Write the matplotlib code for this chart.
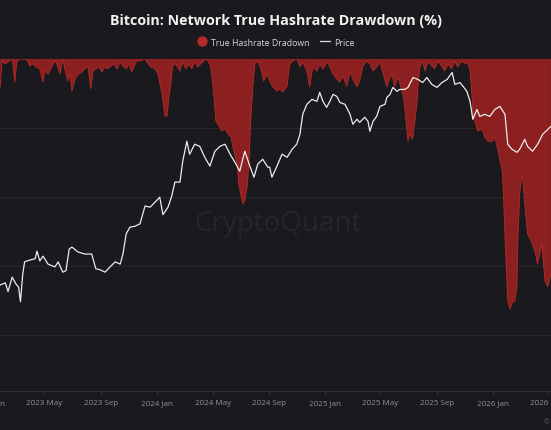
import numpy as np
import pandas as pd
import matplotlib
matplotlib.use("Agg")
import matplotlib.pyplot as plt
import matplotlib.dates as mdates
from matplotlib.lines import Line2D

plt.rcParams['font.family'] = ['Open Sans', 'DejaVu Sans']

# price (USD thousands, log axis)
price_dates = [
    '2023-01-25', '2023-02-05', '2023-02-11', '2023-02-20', '2023-02-28', '2023-03-06',
    '2023-03-10', '2023-03-15', '2023-03-19', '2023-03-30', '2023-04-11', '2023-04-15',
    '2023-04-21', '2023-04-28', '2023-05-09', '2023-05-24', '2023-05-31', '2023-06-10',
    '2023-06-17', '2023-06-24', '2023-06-30', '2023-07-13', '2023-07-28', '2023-08-12',
    '2023-08-21', '2023-08-30', '2023-09-10', '2023-09-21', '2023-10-02', '2023-10-13',
    '2023-10-19', '2023-10-26', '2023-11-03', '2023-11-14', '2023-11-25', '2023-12-06',
    '2023-12-17', '2023-12-28', '2024-01-07', '2024-01-14', '2024-01-25', '2024-02-02',
    '2024-02-09', '2024-02-20', '2024-02-26', '2024-03-06', '2024-03-12', '2024-03-23',
    '2024-04-03', '2024-04-14', '2024-04-25', '2024-05-06', '2024-05-17', '2024-05-28',
    '2024-06-08', '2024-06-21', '2024-06-29', '2024-07-10', '2024-07-21', '2024-07-30',
    '2024-08-07', '2024-08-18', '2024-08-29', '2024-09-02', '2024-09-07', '2024-09-18',
    '2024-09-29', '2024-10-10', '2024-10-21', '2024-10-31', '2024-11-07', '2024-11-13',
    '2024-11-22', '2024-12-03', '2024-12-14', '2024-12-20', '2024-12-27', '2025-01-04',
    '2025-01-11', '2025-01-18', '2025-01-26', '2025-02-02', '2025-02-13', '2025-02-24',
    '2025-03-02', '2025-03-11', '2025-03-17', '2025-03-28', '2025-04-04', '2025-04-08',
    '2025-04-15', '2025-04-23', '2025-04-30', '2025-05-11', '2025-05-15', '2025-05-22',
    '2025-05-28', '2025-06-06', '2025-06-12', '2025-06-23', '2025-06-30', '2025-07-11',
    '2025-07-22', '2025-08-01', '2025-08-10', '2025-08-21', '2025-09-01', '2025-09-12',
    '2025-09-23', '2025-10-04', '2025-10-10', '2025-10-21', '2025-10-28', '2025-11-05',
    '2025-11-12', '2025-11-18', '2025-11-27', '2025-12-03', '2025-12-14', '2025-12-25',
    '2026-01-05', '2026-01-16', '2026-01-27', '2026-02-02', '2026-02-11', '2026-02-22',
    '2026-02-28', '2026-03-11', '2026-03-17', '2026-03-28', '2026-04-08', '2026-04-19',
    '2026-05-07',
]
price_k = [
    23.1, 23.5, 21.9, 24.6, 23.3, 22.7,
    20.2, 25.2, 27.8, 28.2, 28.5, 30.3,
    28.0, 29.1, 27.3, 26.7, 27.8, 25.6,
    25.9, 30.8, 31.3, 30.1, 29.6, 29.6,
    26.3, 26.1, 25.6, 26.7, 27.8, 27.3,
    29.6, 34.8, 36.7, 37.0, 37.7, 43.5,
    43.1, 44.9, 46.7, 40.6, 43.1, 47.1,
    52.7, 52.7, 62.3, 73.1, 65.9, 71.4,
    70.2, 64.3, 59.9, 67.5, 70.2, 71.4,
    65.9, 60.8, 57.5, 67.5, 59.9, 54.8,
    60.8, 63.3, 59.4, 59.4, 54.8, 59.9,
    65.9, 64.3, 68.6, 71.4, 77.3, 90.7,
    98.3, 102.3, 100.7, 108.2, 100.7, 95.9,
    100.7, 106.5, 104.8, 99.8, 98.3, 90.7,
    83.8, 87.2, 85.1, 88.6, 85.8, 79.2,
    85.8, 89.3, 96.7, 98.3, 103.9, 106.5,
    112.6, 109.1, 110.8, 110.8, 112.6, 121.9,
    120.0, 117.1, 121.9, 115.3, 112.6, 117.1,
    120.0, 126.9, 115.3, 117.1, 113.5, 109.1,
    100.7, 87.2, 94.4, 89.3, 90.7, 89.3,
    94.4, 96.7, 90.7, 71.4, 68.6, 66.9,
    68.6, 74.3, 70.2, 67.5, 71.4, 77.3,
    82.4,
]

# true hashrate drawdown (%)
dd_dates = [
    '2023-01-25', '2023-01-29', '2023-02-05', '2023-02-11', '2023-02-20', '2023-02-26',
    '2023-03-02', '2023-03-08', '2023-03-19', '2023-03-26', '2023-03-30', '2023-04-06',
    '2023-04-13', '2023-04-21', '2023-04-28', '2023-05-02', '2023-05-09', '2023-05-13',
    '2023-05-20', '2023-05-26', '2023-06-04', '2023-06-10', '2023-06-17', '2023-06-21',
    '2023-06-26', '2023-06-30', '2023-07-04', '2023-07-09', '2023-07-15', '2023-07-22',
    '2023-07-28', '2023-08-04', '2023-08-10', '2023-08-15', '2023-08-21', '2023-08-28',
    '2023-09-03', '2023-09-10', '2023-09-16', '2023-09-23', '2023-09-29', '2023-10-06',
    '2023-10-13', '2023-10-19', '2023-10-26', '2023-11-01', '2023-11-07', '2023-11-12',
    '2023-11-18', '2023-11-25', '2023-12-06', '2023-12-13', '2023-12-19', '2023-12-28',
    '2024-01-03', '2024-01-12', '2024-01-18', '2024-01-23', '2024-01-27', '2024-01-31',
    '2024-02-04', '2024-02-11', '2024-02-20', '2024-02-26', '2024-03-04', '2024-03-10',
    '2024-03-17', '2024-03-23', '2024-03-30', '2024-04-05', '2024-04-12', '2024-04-18',
    '2024-04-25', '2024-04-29', '2024-05-04', '2024-05-08', '2024-05-15', '2024-05-21',
    '2024-05-28', '2024-06-03', '2024-06-10', '2024-06-16', '2024-06-23', '2024-06-27',
    '2024-07-01', '2024-07-06', '2024-07-10', '2024-07-15', '2024-07-19', '2024-07-23',
    '2024-07-28', '2024-08-01', '2024-08-07', '2024-08-14', '2024-08-20', '2024-08-27',
    '2024-09-02', '2024-09-09', '2024-09-18', '2024-09-24', '2024-10-01', '2024-10-10',
    '2024-10-16', '2024-10-23', '2024-10-31', '2024-11-07', '2024-11-13', '2024-11-22',
    '2024-11-28', '2024-12-05', '2024-12-14', '2024-12-20', '2024-12-27', '2025-01-05',
    '2025-01-11', '2025-01-18', '2025-01-26', '2025-02-02', '2025-02-08', '2025-02-17',
    '2025-02-24', '2025-03-02', '2025-03-11', '2025-03-17', '2025-03-24', '2025-04-02',
    '2025-04-08', '2025-04-15', '2025-04-23', '2025-04-30', '2025-05-06', '2025-05-15',
    '2025-05-19', '2025-05-26', '2025-06-01', '2025-06-08', '2025-06-17', '2025-06-21',
    '2025-06-28', '2025-06-30', '2025-07-04', '2025-07-09', '2025-07-11', '2025-07-15',
    '2025-07-20', '2025-07-22', '2025-07-26', '2025-08-01', '2025-08-06', '2025-08-12',
    '2025-08-21', '2025-08-27', '2025-09-03', '2025-09-12', '2025-09-18', '2025-09-25',
    '2025-10-03', '2025-10-10', '2025-10-16', '2025-10-25', '2025-11-01', '2025-11-07',
    '2025-11-12', '2025-11-16', '2025-11-18', '2025-11-22', '2025-11-29', '2025-12-08',
    '2025-12-14', '2025-12-21', '2025-12-30', '2026-01-05', '2026-01-12', '2026-01-21',
    '2026-01-23', '2026-01-27', '2026-01-31', '2026-02-02', '2026-02-07', '2026-02-11',
    '2026-02-13', '2026-02-17', '2026-02-22', '2026-02-24', '2026-02-28', '2026-03-05',
    '2026-03-07', '2026-03-11', '2026-03-17', '2026-03-26', '2026-04-02', '2026-04-08',
    '2026-04-17', '2026-04-24', '2026-04-30', '2026-05-07',
]
drawdown = [
    -2.03, -0.14, -0.36, -0.22, 0.0, -1.67,
    -0.22, 0.0, 0.0, -0.14, -0.51, -0.36,
    -0.58, -0.72, -1.67, -0.87, -1.09, -0.87,
    -0.36, -0.14, -1.09, 0.0, -1.09, -1.59,
    -1.09, -2.32, -1.81, -1.30, -1.09, -0.94,
    -0.72, -0.58, -2.17, -0.87, -0.72, -0.58,
    -0.94, -0.58, -0.72, -0.51, -0.36, -0.72,
    -0.22, -0.51, -0.72, -0.36, -0.94, -0.58,
    -0.14, -0.14, 0.0, -0.36, -0.58, -0.72,
    -1.09, -2.54, -4.13, -4.13, -2.75, -1.81,
    -0.51, -0.36, -0.87, -0.22, -0.72, -0.36,
    -0.72, -0.22, -0.58, -0.36, -0.14, 0.0,
    -0.36, -1.09, -2.75, -4.49, -4.86, -5.22,
    -5.07, -5.43, -5.65, -6.67, -7.61, -9.06,
    -9.78, -10.51, -10.29, -9.28, -7.61, -4.49,
    -1.81, -0.36, -0.14, -0.72, -1.59, -1.09,
    -1.59, -2.03, -2.32, -2.17, -2.39, -1.96,
    -0.36, -0.14, 0.0, -0.58, -0.22, -0.87,
    -2.03, -0.58, -0.87, -0.36, -0.72, -0.22,
    -0.58, -1.09, -1.45, -1.67, -1.23, -1.96,
    -0.94, -1.45, -2.03, -1.59, -0.51, -0.14,
    -0.36, -0.87, -0.58, -0.22, -0.94, -2.03,
    -1.59, -1.09, -2.03, -1.30, -2.32, -2.90,
    -5.22, -5.94, -5.43, -5.80, -5.65, -4.49,
    -3.04, -1.81, -0.58, -0.14, -0.87, -0.22,
    -0.51, -0.72, -0.14, -0.58, -0.87, -0.36,
    -0.72, -0.14, -0.58, -0.14, -0.36, -0.22,
    -0.87, -2.54, -3.99, -4.49, -5.22, -5.07,
    -5.65, -5.94, -6.01, -5.65, -6.67, -8.12,
    -9.28, -12.90, -16.09, -17.54, -18.12, -17.75,
    -17.54, -17.61, -16.52, -13.19, -9.78, -8.33,
    -8.84, -10.51, -12.68, -13.26, -13.91, -14.86,
    -13.41, -16.09, -16.52, -15.58,
]

bg = '#19191e'
px = pd.to_datetime(price_dates)
dx = pd.to_datetime(dd_dates)

fig = plt.figure(figsize=(5.51, 4.31), dpi=100, facecolor=bg)
# axes runs a little past both figure edges, the source chart is cropped
ax = fig.add_axes([-40 / 551, 39 / 431, 631 / 551, 332 / 431])
ax.set_facecolor(bg)

ax.fill_between(dx, drawdown, 0, facecolor='#8c1f1f', edgecolor='none', zorder=2)
ax.plot(dx, drawdown, color='#b42a2a', lw=0.6, zorder=3)
ax.set_ylim(-24.06, 0)
ax.set_yticks([0, -5, -10, -15, -20])
ax.grid(axis='y', color='#27272d', lw=0.7)
ax.grid(axis='x', visible=False)

base = pd.Timestamp('2024-01-01')
ax.set_xlim(base + pd.Timedelta(days=-428.5), base + pd.Timedelta(days=944.1))
ax.xaxis.set_major_locator(mdates.MonthLocator(bymonth=[1, 5, 9]))
ax.xaxis.set_major_formatter(mdates.DateFormatter('%Y %b'))
ax.tick_params(axis='x', colors='#3a3a41', length=2.5, width=0.6, pad=3.5,
               labelsize=5.8, labelcolor='#909096')
ax.tick_params(axis='y', left=False, labelleft=False)
for side in ['top', 'left', 'right']:
    ax.spines[side].set_visible(False)
ax.spines['bottom'].set_color('#2e2e35')
ax.spines['bottom'].set_linewidth(0.7)

ax2 = ax.twinx()
ax2.plot(px, price_k, color='#ececec', lw=0.9, zorder=4)
ax2.set_yscale('log')
ax2.set_ylim(9.87, 141.4)
ax2.tick_params(axis='y', right=False, labelright=False, which='both')
ax2.yaxis.set_minor_formatter(plt.NullFormatter())
for s in ax2.spines.values():
    s.set_visible(False)

fig.text(0.505, 1 - 224 / 431, 'CryptoQuant', ha='center', va='center',
         fontsize=20, color='#25252b', zorder=0)

fig.text(0.5, 1 - 21 / 431, 'Bitcoin: Network True Hashrate Drawdown (%)',
         ha='center', va='center', fontsize=10.3, fontweight='bold', color='#f2f2f2')

handles = [
    Line2D([], [], marker='o', ls='none', color='#b42a2a', markersize=6.5),
    Line2D([], [], color='#dcdcdc', lw=0.9),
]
fig.legend(handles, ['True Hashrate Dradown', 'Price'], loc='center',
           bbox_to_anchor=(0.5, 1 - 43 / 431), ncol=2, frameon=False,
           fontsize=6.3, labelcolor='#d8d8d8', handlelength=1.2,
           handletextpad=0.4, columnspacing=1.2)

fig.text(549 / 551, 1 - 423 / 431, '©', ha='right', va='center', fontsize=5,
         color='#6a6a70')

fig.savefig('out.png', dpi=100, facecolor=bg)
